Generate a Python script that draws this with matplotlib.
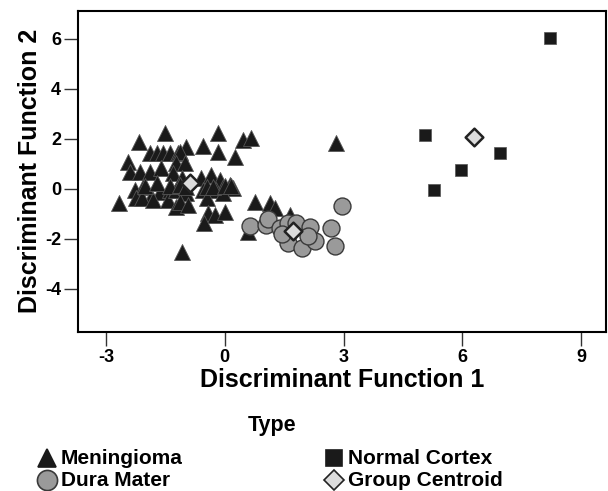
import matplotlib
matplotlib.use('Agg')
import matplotlib.pyplot as plt
from matplotlib.lines import Line2D

plt.rcParams['font.family'] = ['Liberation Sans', 'DejaVu Sans']
plt.rcParams['axes.unicode_minus'] = False

# Meningioma scores (function 1, function 2)
men_x = [-1.52, -2.16, -1.89, -1.72, -1.57, -1.39, -1.19, -2.44, -2.40, -2.15, -1.89, -1.60,
         -2.27, -2.06, -1.85, -1.64, -1.39, -2.23, -2.10, -2.67, -1.81, -1.43, -1.22,
         -0.17, 0.46, 0.67, -0.56, -0.17, 0.25, -0.97, -1.14, -1.22, -1.01, -1.31, -1.09,
         -0.59, -0.34, -0.13, 0.13, -0.04, -0.55, -0.21, 0.21, -1.22, -0.97, -1.14, -0.93,
         -0.46, -0.04, -0.42, -0.25, 0.00, 0.76, -0.53, -1.07, 1.14, 1.26, 0.59, 2.80,
         1.64, -2.02, -1.72, -1.39, -1.14, -0.97, -0.46, -0.30, 0.00, 0.17]
men_y = [2.23, 1.89, 1.43, 1.43, 1.43, 1.43, 1.43, 1.09, 0.69, 0.69, 0.69, 0.83,
         -0.04, 0.09, -0.31, -0.11, -0.04, -0.37, -0.37, -0.57, -0.44, -0.44, -0.71,
         2.23, 1.96, 2.03, 1.72, 1.49, 1.29, 1.69, 1.49, 1.03, 1.03, 0.63, 0.43,
         0.43, 0.56, 0.36, 0.16, 0.09, -0.04, -0.04, 0.03, -0.04, -0.17, -0.51, -0.64,
         -0.37, -0.17, -0.97, -1.04, -0.91, -0.51, -1.35, -2.51, -0.57, -0.76, -1.71, 1.84,
         -1.04, 0.12, 0.23, 0.12, 0.16, 0.09, 0.09, 0.06, 0.12, 0.12]

# Dura Mater scores
dura_x = [0.63, 1.05, 1.09, 1.39, 1.60, 1.81, 2.15, 2.69, 1.56, 1.60, 1.94, 2.27, 2.78, 2.10, 2.95, 1.45]
dura_y = [-1.48, -1.44, -1.20, -1.56, -1.36, -1.36, -1.52, -1.55, -1.90, -2.15, -2.37, -2.07, -2.28, -1.90, -0.68, -1.80]

# Normal Cortex scores
cortex_x = [8.21, 5.05, 5.28, 5.96, 6.94]
cortex_y = [6.04, 2.16, -0.04, 0.76, 1.44]

# Group centroids
cent_x = [-0.88, 1.72, 6.29]
cent_y = [0.24, -1.68, 2.07]

fig = plt.figure(figsize=(6.08, 4.91), dpi=100)
ax = fig.add_axes([0.128, 0.324, 0.869, 0.654])

ax.scatter(men_x, men_y, marker='^', s=11.5**2, c='#1a1a1a', edgecolors='#555555', linewidths=0.6, zorder=2)
ax.scatter(dura_x, dura_y, marker='o', s=12.2**2, c='#9a9a9a', edgecolors='#3a3a3a', linewidths=1.0, zorder=3)
ax.scatter(cortex_x, cortex_y, marker='s', s=8.6**2, c='#1a1a1a', edgecolors='#555555', linewidths=0.5, zorder=3)
ax.scatter(cent_x, cent_y, marker='D', s=9.0**2, c='#dcdcdc', edgecolors='#222222', linewidths=1.8, zorder=4)

ax.set_xlim(-3.71, 9.63)
ax.set_ylim(-5.72, 7.12)
ax.set_xticks([-3, 0, 3, 6, 9])
ax.set_yticks([-4, -2, 0, 2, 4, 6])
ax.tick_params(direction='out', length=10, width=1, labelsize=13, pad=2, color='#333333')
for lab in ax.get_xticklabels() + ax.get_yticklabels():
    lab.set_fontweight('bold')
for sp in ax.spines.values():
    sp.set_linewidth(1.5)

ax.set_xlabel('Discriminant Function 1', fontsize=18, fontweight='bold', labelpad=2)
ax.set_ylabel('Discriminant Function 2', fontsize=18, fontweight='bold', labelpad=2)

# legend drawn by hand on the figure
fig.text(272 / 608, 1 - 426 / 491, 'Type', fontsize=15.5, fontweight='bold', ha='center', va='center')
leg = [('^', '#1a1a1a', '#1a1a1a', 47, 458, 'Meningioma', 13),
       ('o', '#9a9a9a', '#3a3a3a', 47, 480, 'Dura Mater', 14.5),
       ('s', '#1a1a1a', '#1a1a1a', 334, 458, 'Normal Cortex', 12),
       ('D', '#dcdcdc', '#222222', 334, 480, 'Group Centroid', 10.5)]
for mk, fc, ec, px, py, name, ms in leg:
    fig.add_artist(Line2D([px / 608], [1 - py / 491], transform=fig.transFigure, marker=mk,
                          markersize=ms, markerfacecolor=fc, markeredgecolor=ec,
                          markeredgewidth=1.2, linestyle='none'))
    fig.text((px + 14) / 608, 1 - py / 491, name, fontsize=15, fontweight='bold', va='center')

fig.savefig('out.png', dpi=100)
